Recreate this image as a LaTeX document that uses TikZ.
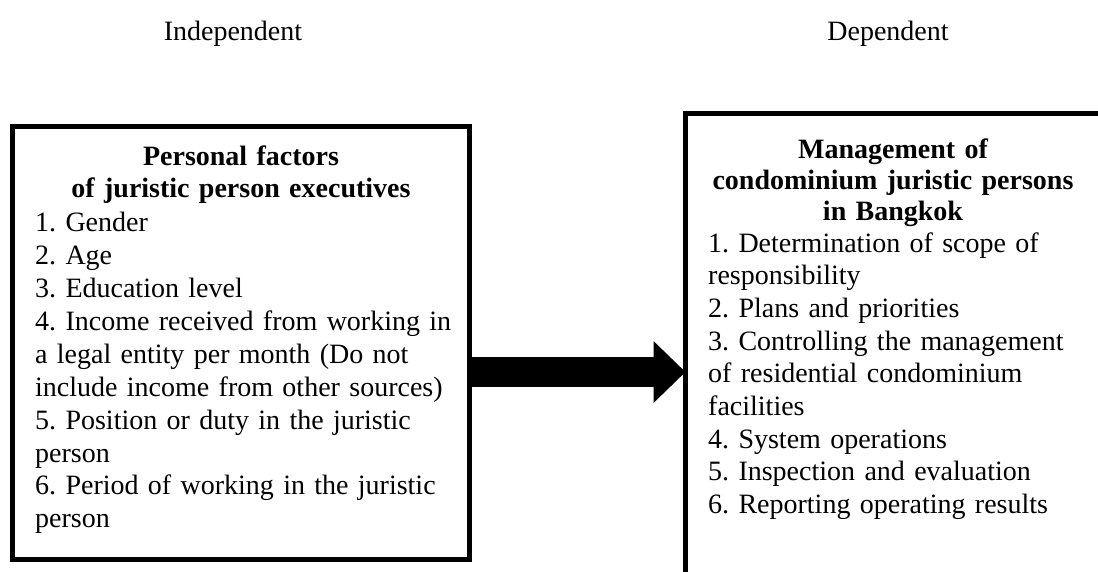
\documentclass[tikz,border=0pt]{standalone}
\usepackage{fontspec}
\setmainfont{Liberation Serif}
\usetikzlibrary{arrows.meta}
\frenchspacing
\begin{document}
\begin{tikzpicture}[x=1pt,y=-1pt,
  box/.style={draw, line width=5pt, inner sep=0pt, outer sep=0pt, anchor=north west},
  listtxt/.style={inner sep=0pt, anchor=base west, align=left, text width=600pt, font=\fontsize{28}{32.9}\selectfont\frenchspacing},
  titletxt/.style={inner sep=0pt, anchor=base, align=center, text width=600pt, font=\fontsize{28}{32}\selectfont\bfseries},
  hdr/.style={inner sep=0pt, anchor=base, font=\fontsize{28}{33}\selectfont}]
\clip (0,0) rectangle (1098,571);
\node[hdr] (h1) at (233,40) {Independent};
\node[hdr] (h2) at (888,40) {Dependent};
\node[box, minimum width=457pt, minimum height=432.5pt] (L) at (12.5,126.5) {};
\node[box, minimum width=600pt, minimum height=600pt] (R) at (685.5,113.5) {};
\node[titletxt] (Lt) at (241,165) {Personal factors\\of juristic person executives};
\node[listtxt] (Ll) at (35,231.7) {1. Gender\\2. Age\\3. Education level\\4. Income received from working in\\a legal entity per month (Do not\\include income from other sources)\\5. Position or duty in the juristic\\person\\6. Period of working in the juristic\\person};
\node[titletxt, font=\fontsize{28}{31}\selectfont\bfseries] (Rt) at (893,158) {Management of\\condominium juristic persons\\in Bangkok};
\node[listtxt, font=\fontsize{28}{32.7}\selectfont\frenchspacing] (Rl) at (708,252) {1. Determination of scope of\\responsibility\\2. Plans and priorities\\3. Controlling the management\\of residential condominium\\facilities\\4. System operations\\5. Inspection and evaluation\\6. Reporting operating results};
\coordinate (ay) at (0,372);
\draw[line width=30pt, -{Triangle[length=32pt, width=60pt]}] (L.east |- ay) -- (R.west |- ay);
\end{tikzpicture}
\end{document}
